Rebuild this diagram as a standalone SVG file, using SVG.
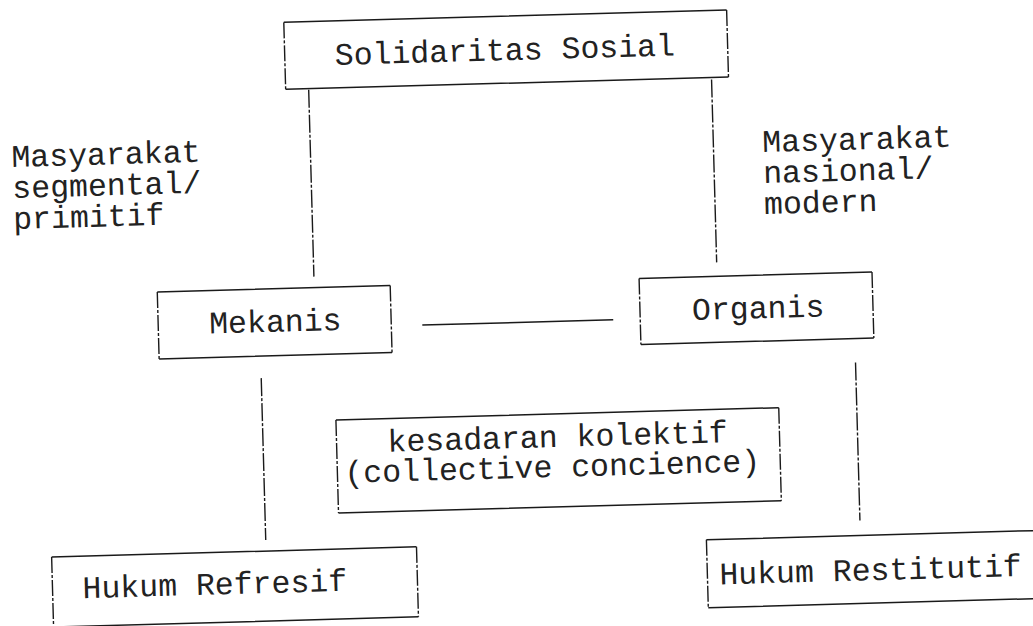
<svg xmlns="http://www.w3.org/2000/svg" width="1033" height="626" viewBox="0 0 1033 626">
<style>
  .bg{fill:#ffffff}
  .h{fill:none;stroke:#1a1a1a;stroke-width:1.5}
  .v{fill:none;stroke:#1a1a1a;stroke-width:1.4;stroke-dasharray:16 2 3 2}
  .c{fill:none;stroke:#1a1a1a;stroke-width:1.5}
  .cd{fill:none;stroke:#1a1a1a;stroke-width:1.4;stroke-dasharray:18 2 3 2}
  text{font-family:"Liberation Mono","DejaVu Sans Mono",monospace;font-size:31.5px;fill:#222222}
</style>
<rect class="bg" x="0" y="0" width="1033" height="626"/>
<g transform="rotate(-1.6 516 313)">
  <g id="connectors">
    <line class="cd" x1="315" y1="84" x2="315" y2="271"/>
    <line class="cd" x1="718" y1="85" x2="718" y2="268"/>
    <line class="c" x1="422" y1="322.5" x2="613" y2="322.5"/>
    <line class="cd" x1="259.5" y1="371" x2="259.5" y2="533"/>
    <line class="cd" x1="854" y1="372" x2="854" y2="530"/>
  </g>
  <g id="n-solidaritas">
    <path class="h" d="M292 16H735M292 83H735"/>
    <path class="v" d="M292 16V83M735 16V83"/>
    <text x="342" y="60">Solidaritas Sosial</text>
  </g>
  <g id="n-mekanis">
    <path class="h" d="M158 282H391M158 349H391"/>
    <path class="v" d="M158 282V349M391 282V349"/>
    <text x="209" y="325">Mekanis</text>
  </g>
  <g id="n-organis">
    <path class="h" d="M640 282H873M640 348H873"/>
    <path class="v" d="M640 282V348M873 282V348"/>
    <text x="692" y="325">Organis</text>
  </g>
  <g id="n-kesadaran">
    <path class="h" d="M333 415H776M333 508H776"/>
    <path class="v" d="M333 415V508M776 415V508"/>
    <text x="384" y="448">kesadaran kolektif</text>
    <text x="340" y="478">(collective concience)</text>
  </g>
  <g id="n-refresif">
    <path class="h" d="M45 544H410M45 614H410"/>
    <path class="v" d="M45 544V614M410 544V614"/>
    <text x="75" y="586">Hukum Refresif</text>
  </g>
  <g id="n-restitutif">
    <path class="h" d="M700 545H1045M700 613H1045"/>
    <path class="v" d="M700 545V613M1045 545V613"/>
    <text x="712" y="590">Hukum Restitutif</text>
  </g>
  <g id="label-left">
    <text x="16" y="153">Masyarakat</text>
    <text x="16" y="184">segmental/</text>
    <text x="16" y="215">primitif</text>
  </g>
  <g id="label-right">
    <text x="767" y="159">Masyarakat</text>
    <text x="767" y="190">nasional/</text>
    <text x="767" y="221">modern</text>
  </g>
</g>
</svg>
